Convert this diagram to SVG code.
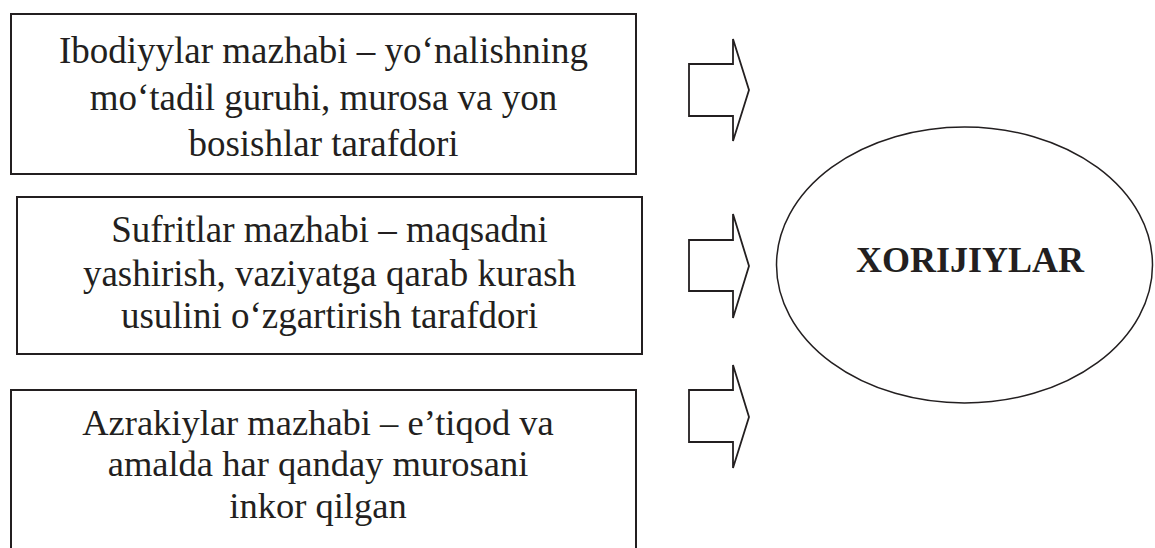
<svg xmlns="http://www.w3.org/2000/svg" width="1155" height="548" viewBox="0 0 1155 548">
<style>
.box{fill:#fff;stroke:#231f20;stroke-width:2}
.arr{fill:#fff;stroke:#231f20;stroke-width:1.8;stroke-linejoin:miter}
.t{font-family:"Liberation Serif","Times New Roman",serif;font-size:37px;fill:#231f20;text-anchor:middle}
.b{font-family:"Liberation Serif","Times New Roman",serif;font-size:36px;font-weight:bold;fill:#231f20;text-anchor:middle}
</style>
<rect width="1155" height="548" fill="#fff"/>
<g id="node-ibodiyylar">
<rect class="box" x="11" y="14" width="625" height="160"/>
<text class="t" x="323.5" y="63">Ibodiyylar mazhabi – yo‘nalishning</text>
<text class="t" x="323.5" y="110">mo‘tadil guruhi, murosa va yon</text>
<text class="t" x="323.5" y="156">bosishlar tarafdori</text>
</g>
<g id="node-sufritlar">
<rect class="box" x="17" y="197" width="625" height="157"/>
<text class="t" x="329.5" y="242">Sufritlar mazhabi – maqsadni</text>
<text class="t" x="329.5" y="286">yashirish, vaziyatga qarab kurash</text>
<text class="t" x="329.5" y="328">usulini o‘zgartirish tarafdori</text>
</g>
<g id="node-azrakiylar">
<rect class="box" x="11" y="390" width="625" height="180"/>
<text class="t" x="318" y="435" style="font-size:36.5px">Azrakiylar mazhabi – e’tiqod va</text>
<text class="t" x="318" y="476" style="font-size:36.5px">amalda har qanday murosani</text>
<text class="t" x="318" y="518" style="font-size:36.5px">inkor qilgan</text>
</g>
<g id="node-xorijiylar">
<ellipse cx="964.5" cy="265" rx="188" ry="138" fill="#fff" stroke="#231f20" stroke-width="1.5"/>
<text class="b" x="970" y="272">XORIJIYLAR</text>
</g>
<g id="connectors">
<polygon class="arr" points="689,64 733,64 733,39 749,90 733,141 733,116 689,116"/>
<polygon class="arr" points="689,240 733,240 733,214 749,266 733,318 733,291 689,291"/>
<polygon class="arr" points="689,390 733,390 733,365 749,417 733,468 733,442 689,442"/>
</g>
</svg>
